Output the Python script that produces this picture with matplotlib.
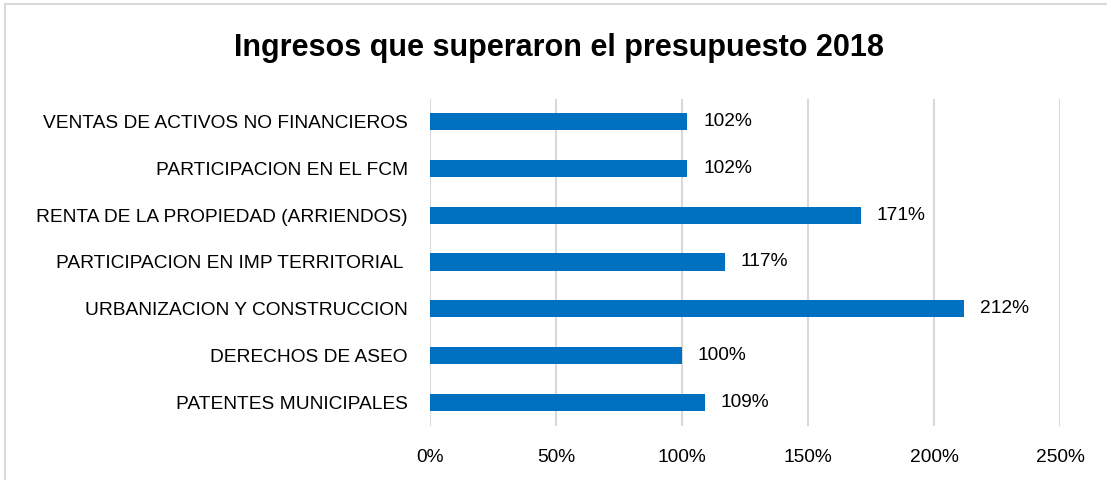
import matplotlib.pyplot as plt
from matplotlib.lines import Line2D

categorias = ["VENTAS DE ACTIVOS NO FINANCIEROS",
              "PARTICIPACION EN EL FCM",
              "RENTA DE LA PROPIEDAD (ARRIENDOS)",
              "PARTICIPACION EN IMP TERRITORIAL ",
              "URBANIZACION Y CONSTRUCCION",
              "DERECHOS DE ASEO",
              "PATENTES MUNICIPALES"]
valores = [102, 102, 171, 117, 212, 100, 109]
ticks = [0, 50, 100, 150, 200, 250]

plt.rcParams['font.family'] = ['Liberation Sans Narrow', 'Liberation Sans', 'DejaVu Sans']

fig = plt.figure(figsize=(11.07, 4.8), dpi=100)
ax = fig.add_axes([430 / 1107, 1 - 425.5 / 480, 630 / 1107, 327 / 480])

y = list(range(len(categorias)))
ax.barh(y, valores, height=0.37, color='#0070C0', zorder=3)
ax.set_ylim(len(categorias) - 0.5, -0.5)
ax.set_xlim(0, 250)
ax.set_yticks(y)
ax.set_yticklabels(categorias, fontsize=13.8)
ax.set_xticks(ticks)
ax.set_xticklabels([f"{t}%" for t in ticks], fontsize=13.8)
ax.tick_params(axis='both', length=0, colors='#000000')
ax.tick_params(axis='y', pad=16)
ax.tick_params(axis='x', pad=17)
ax.grid(axis='x', color='#D9D9D9', linewidth=1.5, zorder=0)
for s in ax.spines.values():
    s.set_visible(False)

for yi, v in zip(y, valores):
    ax.annotate(f"{v}%", (v, yi), xytext=(11.5, 0), textcoords='offset points',
                va='center', ha='left', fontsize=13.8)

fig.text(0.505, 1 - 48 / 480, "Ingresos que superaron el presupuesto 2018",
         ha='center', va='center', fontsize=22, fontweight='bold')

fig.add_artist(Line2D([5 / 1107, 5 / 1107], [0, 1 - 4 / 480], transform=fig.transFigure,
                      color='#D9D9D9', linewidth=1.5))
fig.add_artist(Line2D([5 / 1107, 1], [1 - 4 / 480, 1 - 4 / 480], transform=fig.transFigure,
                      color='#D9D9D9', linewidth=1.5))

fig.savefig("out.png", dpi=100)
